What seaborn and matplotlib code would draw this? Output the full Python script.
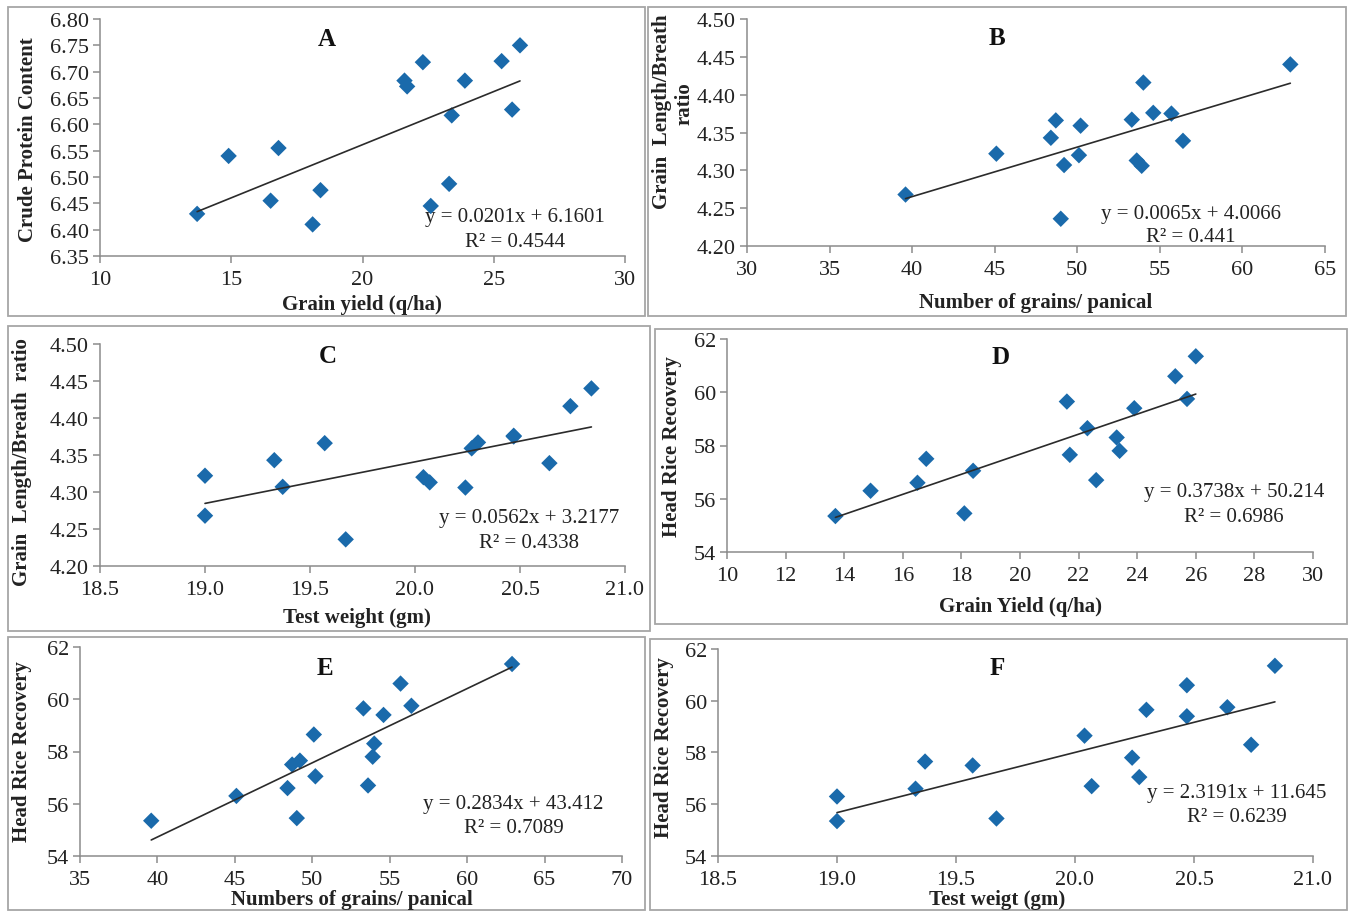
import numpy as np
import pandas as pd
import matplotlib
matplotlib.use("Agg")
import matplotlib.pyplot as plt
from matplotlib.patches import Rectangle
import seaborn as sns

# 16 genotypes, values
grain_yield = [13.7, 14.9, 16.5, 16.8, 18.1, 18.4, 21.6, 21.7, 22.3, 22.6, 23.3, 23.4, 23.9, 25.3, 25.7, 26.0]
protein = [6.430, 6.540, 6.455, 6.555, 6.410, 6.475, 6.683, 6.672, 6.718, 6.445, 6.487, 6.617, 6.683, 6.720, 6.628, 6.750]
hrr = [55.35, 56.30, 56.60, 57.50, 55.45, 57.05, 59.65, 57.65, 58.65, 56.70, 58.30, 57.80, 59.40, 60.60, 59.75, 61.35]
grains_panicle = [39.6, 45.1, 48.4, 48.7, 49.0, 50.2, 53.3, 49.2, 50.1, 53.6, 54.0, 53.9, 54.6, 55.7, 56.4, 62.9]
test_weight = [19.00, 19.00, 19.33, 19.57, 19.67, 20.27, 20.30, 19.37, 20.04, 20.07, 20.74, 20.24, 20.47, 20.47, 20.64, 20.84]
lb_ratio = [4.268, 4.322, 4.343, 4.366, 4.236, 4.359, 4.367, 4.307, 4.320, 4.313, 4.416, 4.306, 4.376, 4.375, 4.339, 4.440]

df = pd.DataFrame({"gy": grain_yield, "cp": protein, "hrr": hrr,
                   "gp": grains_panicle, "tw": test_weight, "lb": lb_ratio})

W, H = 1350, 912

def fx(px):
    return px / W

def fy(py):
    return 1 - py / H

sns.set_theme(style="white")
plt.rcParams["font.family"] = ["Liberation Serif", "DejaVu Serif"]

fig = plt.figure(figsize=(13.5, 9.12), dpi=100)
fig.patch.set_facecolor("white")

# panel frames (left, top, right, bottom) in pixels
frames = [(8, 8, 645, 317), (648, 8, 1346, 317), (8, 327, 650, 632),
          (655, 330, 1347, 625), (8, 638, 645, 911), (650, 640, 1347, 911)]
for l, t, r, b in frames:
    fig.patches.append(Rectangle((fx(l), fy(b)), fx(r) - fx(l), fy(t) - fy(b),
                                 transform=fig.transFigure, fill=False,
                                 ec="#a6a6a6", lw=1.3))

panels = [
    dict(x="gy", y="cp", box=(100, 20, 625, 257), xlim=(10, 30), xt=np.arange(10, 31, 5),
         ylim=(6.35, 6.80), yt=np.arange(6.35, 6.801, 0.05), yfmt="{:.2f}", xfmt="{:.0f}",
         letter="A", lpos=(0.432, 0.916), eq="y = 0.0201x + 6.1601", r2="R² = 0.4544",
         epos=(0.79, 0.165, 0.063), xlabel="Grain yield (q/ha)", xlpos=(362, 305),
         ylabel="Crude Protein Content", ylpos=(28, 140)),
    dict(x="gp", y="lb", box=(747, 20, 1325, 247), xlim=(30, 65), xt=np.arange(30, 66, 5),
         ylim=(4.20, 4.50), yt=np.arange(4.20, 4.501, 0.05), yfmt="{:.2f}", xfmt="{:.0f}",
         letter="B", lpos=(0.433, 0.92), eq="y = 0.0065x + 4.0066", r2="R² = 0.441",
         epos=(0.768, 0.145, 0.04), xlabel="Number of grains/ panical", xlpos=(1036, 303),
         ylabel="Grain  Length/Breath", ylpos=(662, 112)),
    dict(x="tw", y="lb", box=(100, 345, 625, 567), xlim=(18.5, 21.0), xt=np.arange(18.5, 21.01, 0.5),
         ylim=(4.20, 4.50), yt=np.arange(4.20, 4.501, 0.05), yfmt="{:.2f}", xfmt="{:.1f}",
         letter="C", lpos=(0.434, 0.95), eq="y = 0.0562x + 3.2177", r2="R² = 0.4338",
         epos=(0.817, 0.22, 0.108), xlabel="Test weight (gm)", xlpos=(357, 618),
         ylabel="Grain  Length/Breath  ratio", ylpos=(22, 462)),
    dict(x="gy", y="hrr", box=(727, 340, 1313, 553), xlim=(10, 30), xt=np.arange(10, 31, 2),
         ylim=(54, 62), yt=np.arange(54, 63, 2), yfmt="{:.0f}", xfmt="{:.0f}",
         letter="D", lpos=(0.466, 0.92), eq="y = 0.3738x + 50.214", r2="R² = 0.6986",
         epos=(0.865, 0.282, 0.169), xlabel="Grain Yield (q/ha)", xlpos=(1021, 607),
         ylabel="Head Rice Recovery", ylpos=(672, 447)),
    dict(x="gp", y="hrr", box=(80, 648, 622, 857), xlim=(35, 70), xt=np.arange(35, 71, 5),
         ylim=(54, 62), yt=np.arange(54, 63, 2), yfmt="{:.0f}", xfmt="{:.0f}",
         letter="E", lpos=(0.452, 0.904), eq="y = 0.2834x + 43.412", r2="R² = 0.7089",
         epos=(0.80, 0.249, 0.134), xlabel="Numbers of grains/ panical", xlpos=(352, 900),
         ylabel="Head Rice Recovery", ylpos=(22, 752)),
    dict(x="tw", y="hrr", box=(718, 650, 1313, 857), xlim=(18.5, 21.0), xt=np.arange(18.5, 21.01, 0.5),
         ylim=(54, 62), yt=np.arange(54, 63, 2), yfmt="{:.0f}", xfmt="{:.1f}",
         letter="F", lpos=(0.469, 0.913), eq="y = 2.3191x + 11.645", r2="R² = 0.6239",
         epos=(0.872, 0.309, 0.193), xlabel="Test weigt (gm)", xlpos=(997, 900),
         ylabel="Head Rice Recovery", ylpos=(664, 748)),
]

for p in panels:
    l, t, r, b = p["box"]
    ax = fig.add_axes([fx(l), fy(b), fx(r) - fx(l), fy(t) - fy(b)])
    sns.regplot(data=df, x=p["x"], y=p["y"], ax=ax, ci=None, marker="D",
                scatter_kws=dict(s=70, color="#1a6aab", edgecolor="none", alpha=1, zorder=2),
                line_kws=dict(color="#2b2b2b", lw=1.2, zorder=3))
    ax.set_xlim(*p["xlim"])
    ax.set_ylim(*p["ylim"])
    ax.set_xticks(p["xt"])
    ax.set_xticklabels([p["xfmt"].format(v) for v in p["xt"]])
    ax.set_yticks(p["yt"])
    ax.set_yticklabels([p["yfmt"].format(v) for v in p["yt"]])
    ax.set_xlabel("")
    ax.set_ylabel("")
    for s in ["top", "right"]:
        ax.spines[s].set_visible(False)
    for s in ["left", "bottom"]:
        ax.spines[s].set_color("#8c8c8c")
        ax.spines[s].set_linewidth(1.1)
    ax.tick_params(axis="both", direction="out", length=5, width=1.1, color="#8c8c8c",
                   labelsize=16, labelcolor="#222222", pad=3,
                   left=True, bottom=True)
    ax.tick_params(axis="x", pad=5)
    ax.patch.set_alpha(0)

    ax.text(p["lpos"][0], p["lpos"][1], p["letter"], transform=ax.transAxes,
            ha="center", va="center", fontsize=18, fontweight="bold", color="#111111")
    ex, ey1, ey2 = p["epos"]
    ax.text(ex, ey1, p["eq"], transform=ax.transAxes, ha="center", va="center",
            fontsize=15, color="#222222")
    ax.text(ex, ey2, p["r2"], transform=ax.transAxes, ha="center", va="center",
            fontsize=15, color="#222222")

    fig.text(fx(p["xlpos"][0]), fy(p["xlpos"][1]), p["xlabel"], ha="center", va="center",
             fontsize=15, fontweight="bold", color="#222222")
    fig.text(fx(p["ylpos"][0]), fy(p["ylpos"][1]), p["ylabel"], ha="center", va="center",
             rotation=90, fontsize=15, fontweight="bold", color="#222222")

# second line of the B axis title sits over the tick labels in the original
fig.text(fx(684), fy(104), "ratio", ha="center", va="center", rotation=90,
         fontsize=15, fontweight="bold", color="#222222")

fig.savefig("out.png", dpi=100, facecolor="white")
